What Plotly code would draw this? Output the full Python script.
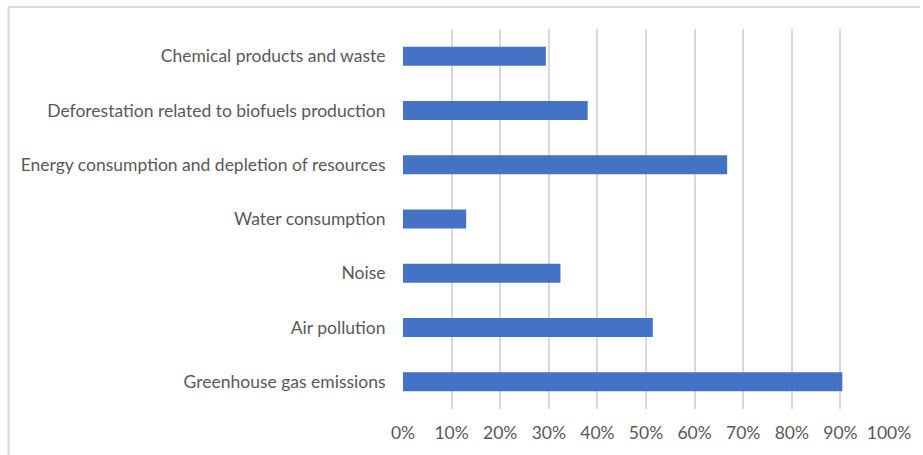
import plotly.graph_objects as go

categories = [
    "Greenhouse gas emissions",
    "Air pollution",
    "Noise",
    "Water consumption",
    "Energy consumption and depletion of resources",
    "Deforestation related to biofuels production",
    "Chemical products and waste",
]
values = [0.904, 0.514, 0.324, 0.130, 0.667, 0.380, 0.294]
tick_vals = [i / 10 for i in range(11)]
tick_text = [f"{i*10}%" for i in range(11)]

fig = go.Figure(go.Bar(
    x=values, y=categories, orientation="h",
    marker=dict(color="#4472C4", line=dict(width=0)),
    width=0.35,
))

L, R, T, B = 403, 32, 29, 46
W, H = 923, 455
pw, ph = W - L - R, H - T - B

def px_x(p):
    return (p - L) / pw

def px_y(p):
    return (H - B - p) / ph

fig.update_layout(
    width=W, height=H,
    margin=dict(l=L, r=R, t=T, b=B, pad=0),
    paper_bgcolor="white", plot_bgcolor="white",
    font=dict(family="Lato", size=17.5, color="#595959"),
    showlegend=False,
    xaxis=dict(range=[0, 1], tickvals=tick_vals, ticktext=tick_text,
               showgrid=True, gridcolor="#D9D9D9", gridwidth=1.5,
               zeroline=False, showline=False,
               ticks="outside", ticklen=8, tickcolor="rgba(0,0,0,0)",
               tickfont=dict(size=17.5, color="#595959")),
    yaxis=dict(categoryorder="array", categoryarray=categories,
               showgrid=False, zeroline=False, showline=False,
               ticks="outside", ticklen=13, tickcolor="rgba(0,0,0,0)",
               tickfont=dict(size=17.5, color="#595959")),
    shapes=[
        dict(type="line", xref="paper", yref="paper",
             x0=px_x(7), x1=px_x(922), y0=px_y(7), y1=px_y(7),
             line=dict(color="#D9D9D9", width=2)),
        dict(type="line", xref="paper", yref="paper",
             x0=px_x(7), x1=px_x(7), y0=px_y(7), y1=px_y(456),
             line=dict(color="#D9D9D9", width=2)),
    ],
)

fig.write_html("out.html",
               config={"displayModeBar": False},
               post_script="document.body.style.margin='0';document.body.style.overflow='hidden';")
